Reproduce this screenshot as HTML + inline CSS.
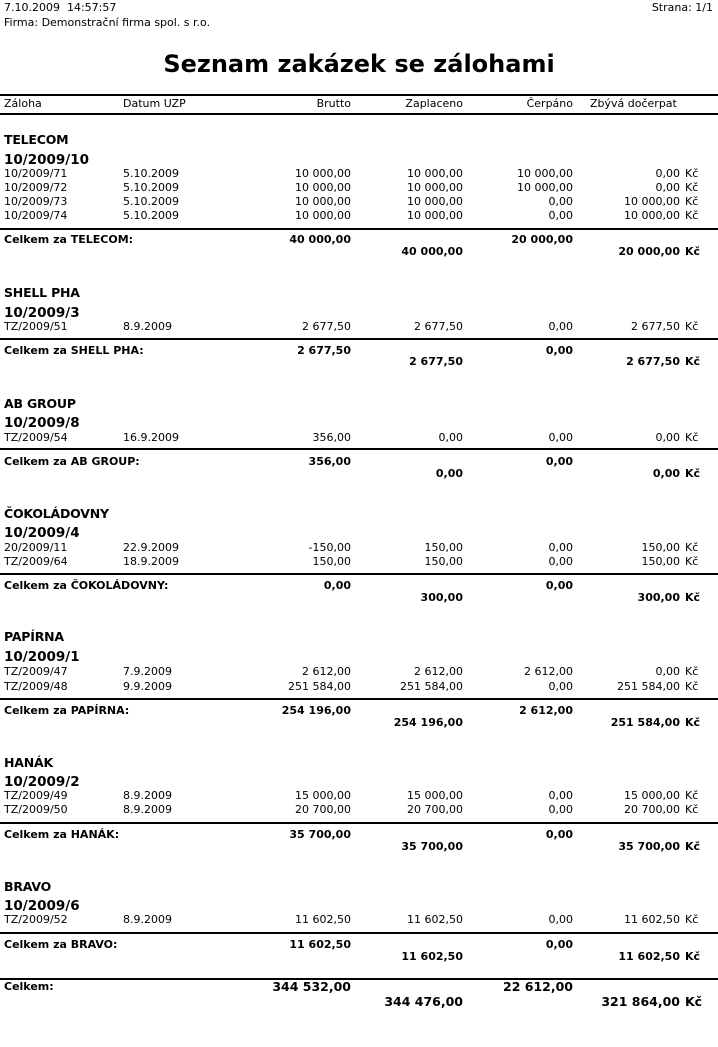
<!DOCTYPE html>
<html><head><meta charset="utf-8"><style>
body{margin:0;width:718px;height:1047px;background:#fff;position:relative;overflow:hidden;font-family:"DejaVu Sans","Liberation Sans",sans-serif;font-size:11px;color:#000}
div{position:absolute;white-space:nowrap;line-height:12px}
.a{left:4px}.d{left:123px}.b{right:367px}.z{right:255px}.c{right:145px}.v{right:38px}.k{left:685px}
.hr{left:0;width:718px;height:2px;background:#000}
.g{font-size:12.5px;left:4px;line-height:14px;font-weight:bold;letter-spacing:-0.2px}
.s{font-size:13.5px;font-weight:bold;left:4px;line-height:14px}
.B{font-weight:bold}
.F{font-weight:bold;font-size:12.5px}
</style></head><body>
<div style="left:4px;top:2px">7.10.2009&nbsp;&nbsp;14:57:57</div>
<div style="left:4px;top:17px">Firma: Demonstrační firma spol. s r.o.</div>
<div style="right:5px;top:2px">Strana: 1/1</div>
<div style="left:0;width:718px;text-align:center;top:49px;font-size:24px;font-weight:bold;line-height:30px">Seznam zakázek se zálohami</div>
<div class="hr" style="top:94px"></div>
<div class="a" style="top:98px">Záloha</div><div class="d" style="top:98px">Datum UZP</div><div class="b" style="top:98px">Brutto</div><div class="z" style="top:98px">Zaplaceno</div><div class="c" style="top:98px">Čerpáno</div><div style="left:590px;top:98px">Zbývá dočerpat</div>
<div class="hr" style="top:113px"></div>

<!-- TELECOM -->
<div class="g" style="top:133px">TELECOM</div>
<div class="s" style="top:153px">10/2009/10</div>
<div class="a" style="top:168px">10/2009/71</div><div class="d" style="top:168px">5.10.2009</div><div class="b" style="top:168px">10 000,00</div><div class="z" style="top:168px">10 000,00</div><div class="c" style="top:168px">10 000,00</div><div class="v" style="top:168px">0,00</div><div class="k" style="top:168px">Kč</div>
<div class="a" style="top:182px">10/2009/72</div><div class="d" style="top:182px">5.10.2009</div><div class="b" style="top:182px">10 000,00</div><div class="z" style="top:182px">10 000,00</div><div class="c" style="top:182px">10 000,00</div><div class="v" style="top:182px">0,00</div><div class="k" style="top:182px">Kč</div>
<div class="a" style="top:196px">10/2009/73</div><div class="d" style="top:196px">5.10.2009</div><div class="b" style="top:196px">10 000,00</div><div class="z" style="top:196px">10 000,00</div><div class="c" style="top:196px">0,00</div><div class="v" style="top:196px">10 000,00</div><div class="k" style="top:196px">Kč</div>
<div class="a" style="top:210px">10/2009/74</div><div class="d" style="top:210px">5.10.2009</div><div class="b" style="top:210px">10 000,00</div><div class="z" style="top:210px">10 000,00</div><div class="c" style="top:210px">0,00</div><div class="v" style="top:210px">10 000,00</div><div class="k" style="top:210px">Kč</div>
<div class="hr" style="top:228px"></div>
<div class="a B" style="top:234px">Celkem za TELECOM:</div><div class="b B" style="top:234px">40 000,00</div><div class="c B" style="top:234px">20 000,00</div>
<div class="z B" style="top:246px">40 000,00</div><div class="v B" style="top:246px">20 000,00</div><div class="k B" style="top:246px">Kč</div>

<!-- SHELL -->
<div class="g" style="top:286px">SHELL PHA</div>
<div class="s" style="top:306px">10/2009/3</div>
<div class="a" style="top:321px">TZ/2009/51</div><div class="d" style="top:321px">8.9.2009</div><div class="b" style="top:321px">2 677,50</div><div class="z" style="top:321px">2 677,50</div><div class="c" style="top:321px">0,00</div><div class="v" style="top:321px">2 677,50</div><div class="k" style="top:321px">Kč</div>
<div class="hr" style="top:338px"></div>
<div class="a B" style="top:345px">Celkem za SHELL PHA:</div><div class="b B" style="top:345px">2 677,50</div><div class="c B" style="top:345px">0,00</div>
<div class="z B" style="top:356px">2 677,50</div><div class="v B" style="top:356px">2 677,50</div><div class="k B" style="top:356px">Kč</div>

<!-- AB -->
<div class="g" style="top:397px">AB GROUP</div>
<div class="s" style="top:416px">10/2009/8</div>
<div class="a" style="top:432px">TZ/2009/54</div><div class="d" style="top:432px">16.9.2009</div><div class="b" style="top:432px">356,00</div><div class="z" style="top:432px">0,00</div><div class="c" style="top:432px">0,00</div><div class="v" style="top:432px">0,00</div><div class="k" style="top:432px">Kč</div>
<div class="hr" style="top:448px"></div>
<div class="a B" style="top:456px">Celkem za AB GROUP:</div><div class="b B" style="top:456px">356,00</div><div class="c B" style="top:456px">0,00</div>
<div class="z B" style="top:468px">0,00</div><div class="v B" style="top:468px">0,00</div><div class="k B" style="top:468px">Kč</div>

<!-- COKO -->
<div class="g" style="top:507px">ČOKOLÁDOVNY</div>
<div class="s" style="top:526px">10/2009/4</div>
<div class="a" style="top:542px">20/2009/11</div><div class="d" style="top:542px">22.9.2009</div><div class="b" style="top:542px">-150,00</div><div class="z" style="top:542px">150,00</div><div class="c" style="top:542px">0,00</div><div class="v" style="top:542px">150,00</div><div class="k" style="top:542px">Kč</div>
<div class="a" style="top:556px">TZ/2009/64</div><div class="d" style="top:556px">18.9.2009</div><div class="b" style="top:556px">150,00</div><div class="z" style="top:556px">150,00</div><div class="c" style="top:556px">0,00</div><div class="v" style="top:556px">150,00</div><div class="k" style="top:556px">Kč</div>
<div class="hr" style="top:573px"></div>
<div class="a B" style="top:580px">Celkem za ČOKOLÁDOVNY:</div><div class="b B" style="top:580px">0,00</div><div class="c B" style="top:580px">0,00</div>
<div class="z B" style="top:592px">300,00</div><div class="v B" style="top:592px">300,00</div><div class="k B" style="top:592px">Kč</div>

<!-- PAPIRNA -->
<div class="g" style="top:630px">PAPÍRNA</div>
<div class="s" style="top:650px">10/2009/1</div>
<div class="a" style="top:666px">TZ/2009/47</div><div class="d" style="top:666px">7.9.2009</div><div class="b" style="top:666px">2 612,00</div><div class="z" style="top:666px">2 612,00</div><div class="c" style="top:666px">2 612,00</div><div class="v" style="top:666px">0,00</div><div class="k" style="top:666px">Kč</div>
<div class="a" style="top:681px">TZ/2009/48</div><div class="d" style="top:681px">9.9.2009</div><div class="b" style="top:681px">251 584,00</div><div class="z" style="top:681px">251 584,00</div><div class="c" style="top:681px">0,00</div><div class="v" style="top:681px">251 584,00</div><div class="k" style="top:681px">Kč</div>
<div class="hr" style="top:698px"></div>
<div class="a B" style="top:705px">Celkem za PAPÍRNA:</div><div class="b B" style="top:705px">254 196,00</div><div class="c B" style="top:705px">2 612,00</div>
<div class="z B" style="top:717px">254 196,00</div><div class="v B" style="top:717px">251 584,00</div><div class="k B" style="top:717px">Kč</div>

<!-- HANAK -->
<div class="g" style="top:756px">HANÁK</div>
<div class="s" style="top:775px">10/2009/2</div>
<div class="a" style="top:790px">TZ/2009/49</div><div class="d" style="top:790px">8.9.2009</div><div class="b" style="top:790px">15 000,00</div><div class="z" style="top:790px">15 000,00</div><div class="c" style="top:790px">0,00</div><div class="v" style="top:790px">15 000,00</div><div class="k" style="top:790px">Kč</div>
<div class="a" style="top:804px">TZ/2009/50</div><div class="d" style="top:804px">8.9.2009</div><div class="b" style="top:804px">20 700,00</div><div class="z" style="top:804px">20 700,00</div><div class="c" style="top:804px">0,00</div><div class="v" style="top:804px">20 700,00</div><div class="k" style="top:804px">Kč</div>
<div class="hr" style="top:822px"></div>
<div class="a B" style="top:829px">Celkem za HANÁK:</div><div class="b B" style="top:829px">35 700,00</div><div class="c B" style="top:829px">0,00</div>
<div class="z B" style="top:841px">35 700,00</div><div class="v B" style="top:841px">35 700,00</div><div class="k B" style="top:841px">Kč</div>

<!-- BRAVO -->
<div class="g" style="top:880px">BRAVO</div>
<div class="s" style="top:899px">10/2009/6</div>
<div class="a" style="top:914px">TZ/2009/52</div><div class="d" style="top:914px">8.9.2009</div><div class="b" style="top:914px">11 602,50</div><div class="z" style="top:914px">11 602,50</div><div class="c" style="top:914px">0,00</div><div class="v" style="top:914px">11 602,50</div><div class="k" style="top:914px">Kč</div>
<div class="hr" style="top:932px"></div>
<div class="a B" style="top:939px">Celkem za BRAVO:</div><div class="b B" style="top:939px">11 602,50</div><div class="c B" style="top:939px">0,00</div>
<div class="z B" style="top:951px">11 602,50</div><div class="v B" style="top:951px">11 602,50</div><div class="k B" style="top:951px">Kč</div>

<!-- TOTAL -->
<div class="hr" style="top:978px"></div>
<div class="a B" style="top:981px">Celkem:</div><div class="b F" style="top:981px">344 532,00</div><div class="c F" style="top:981px">22 612,00</div>
<div class="z F" style="top:996px">344 476,00</div><div class="v F" style="top:996px">321 864,00</div><div class="k F" style="top:996px">Kč</div>
</body></html>
